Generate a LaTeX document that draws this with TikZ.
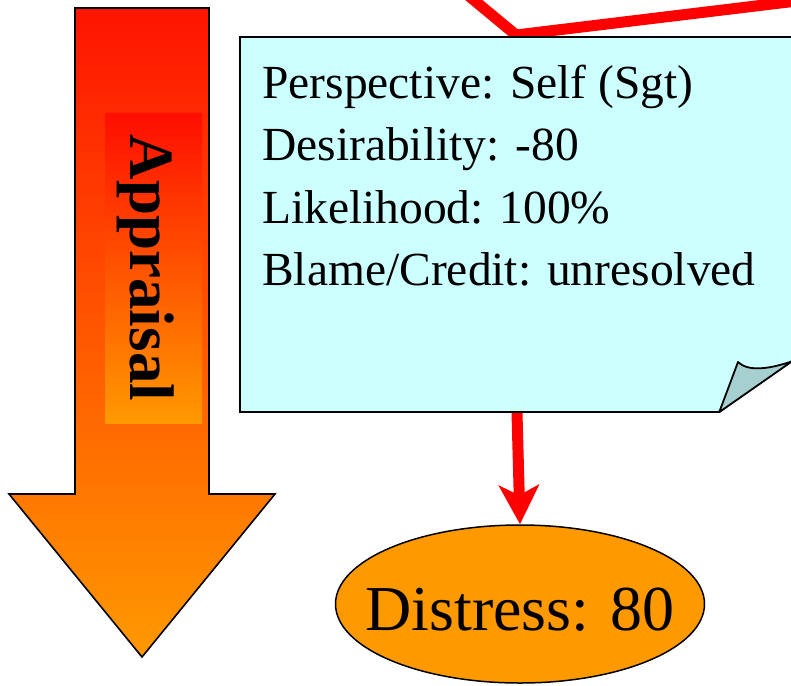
\documentclass[tikz,border=0pt]{standalone}
\usepackage{fontspec}
\setmainfont{Liberation Serif}
\usetikzlibrary{arrows.meta,shapes.geometric,calc}

\definecolor{notefill}{HTML}{CCFFFF}
\definecolor{foldfill}{HTML}{A6CFCF}
\definecolor{emoorange}{HTML}{FF9900}
\definecolor{linkred}{HTML}{FF0000}
\definecolor{arrowtop}{HTML}{FF1400}
\definecolor{arrowmid}{HTML}{FF7300}
\definecolor{labeltop}{HTML}{FF0E00}

\tikzset{
  outline/.style={draw=black, line width=1.8pt, line join=miter},
  notetext/.style={font=\fontsize{47.5}{56}\selectfont, anchor=base west, inner sep=0pt},
  link/.style={draw=linkred, line width=11pt},
  emotion/.style={ellipse, draw=black, line width=1.5pt, fill=emoorange,
    minimum width=369pt, minimum height=158pt, inner sep=0pt},
  emotiontext/.style={anchor=base, inner sep=0pt, font=\fontsize{64}{70}\selectfont},
  stagelabel/.style={rotate=-90, anchor=base, inner sep=0pt,
    font=\fontsize{63}{70}\selectfont\bfseries},
}

\begin{document}
\begin{tikzpicture}[x=1pt,y=-1pt]
\useasboundingbox (0,0) rectangle (791,685);
\clip (0,0) rectangle (791,685);

% Appraisal stage arrow
\shade[top color=arrowtop, middle color=arrowmid, bottom color=emoorange]
  (75,8) -- (209,8) -- (209,494) -- (275,494) -- (142,657) -- (9,494) -- (75,494) -- cycle;
\draw[outline, line width=1.6pt]
  (75,8) -- (209,8) -- (209,494) -- (275,494) -- (142,657) -- (9,494) -- (75,494) -- cycle;
\shade[top color=labeltop, bottom color=emoorange] (105,113) rectangle (202,423);
\node[stagelabel] (stage) at (130,268) {Appraisal};

% incoming link from above
\coordinate (vin) at (440,-28);
\coordinate (vtip) at (516,35);
\coordinate (vout) at (830,-3);
\draw[link] (vin) -- (vtip) -- (vout);

% appraisal note with folded corner
\node[minimum width=552pt, minimum height=375pt, inner sep=0pt] (note) at (516,224.5) {};
\coordinate (cutr) at ($(note.south east)+(0,-51)$);
\coordinate (cutb) at ($(note.south east)+(-73,0)$);
\fill[notefill] (note.north west) -- (note.north east) -- (cutr) -- (cutb) -- (note.south west) -- cycle;
\draw[outline] (cutb) -- (note.south west) -- (note.north west) -- (note.north east) -- (cutr);
\coordinate (fold) at (738,362);
\draw[outline, fill=foldfill, line join=round]
  (cutb) -- (fold) .. controls (748,372) and (770,369) .. (cutr) -- cycle;

\node[notetext] (l1) at (262,98) {Perspective: Self (Sgt)};
\node[notetext] (l2) at (262,160.5) {Desirability: -80};
\node[notetext] (l3) at (262,223) {Likelihood: 100\%};
\node[notetext] (l4) at (262,285.5) {Blame/Credit: unresolved};

% resulting emotion
\node[emotion] (distress) at (520,604) {};
\node[emotiontext] (distresstext) at (520,630) {Distress: 80};
\coordinate (noteout) at (517,413);
\draw[link, -{Stealth[length=39pt, width=40pt, inset=10pt]}] (noteout) -- (distress.north);
\end{tikzpicture}
\end{document}
